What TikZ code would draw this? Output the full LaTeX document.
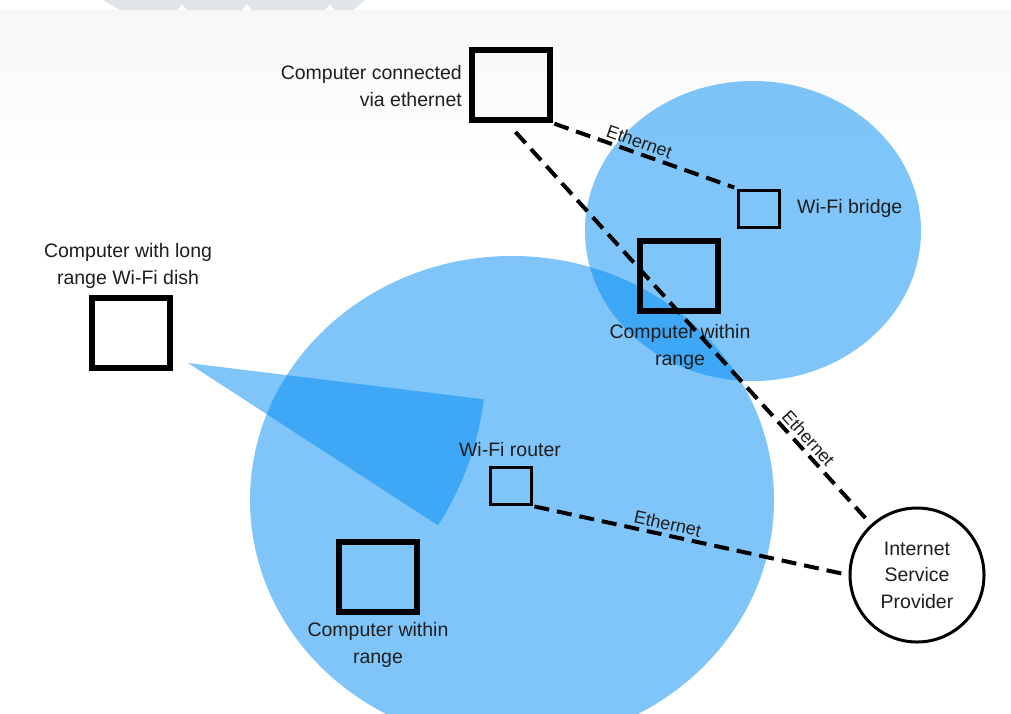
\documentclass[tikz,border=0pt]{standalone}
\usepackage{fontspec}
\setmainfont{Liberation Sans}
\usetikzlibrary{calc}
\definecolor{wifiblue}{RGB}{0,141,245}
\definecolor{txt}{RGB}{30,30,30}
\definecolor{wm}{RGB}{224,229,233}
\begin{document}
\begin{tikzpicture}[x=1pt,y=-1pt,
  lbl/.style={text=txt, font=\fontsize{19.5}{26.5}\selectfont, inner sep=0pt, align=center},
  eth/.style={text=txt, font=\fontsize{18}{20}\selectfont, inner sep=3pt, sloped, above},
  pcbox/.style={draw=black, line width=6pt, minimum width=78pt, minimum height=70pt, inner sep=0pt},
  devbox/.style={draw=black, line width=3pt, minimum width=41pt, minimum height=37pt, inner sep=0pt},
  cable/.style={draw=black, line width=4pt, dash pattern=on 15pt off 8pt},
  wifi/.style={fill=wifiblue, fill opacity=0.5}]

\useasboundingbox (0,0) rectangle (1011,713);
\fill[white] (0,0) rectangle (1011,713);
\shade[top color=black!3, bottom color=white] (0,10) rectangle (1011,170);
\fill[wm] (103,0) -- (365,0) -- (353,10) -- (335,10) -- (330,4) -- (325,10) -- (252,10) -- (247,4) -- (242,10) -- (187,10) -- (182,4) -- (177,10) -- (120,10) -- cycle;

% coverage areas
\fill[wifi] (512,500) ellipse [x radius=262, y radius=244];
\fill[wifi] (753,231) ellipse [x radius=168, y radius=150];
\coordinate (dish) at (188,363);
\fill[wifi] (dish) -- ++(7:298) arc[start angle=7, end angle=33, radius=298] -- cycle;

% devices
\node[pcbox] (c1) at (510.5,85) {};
\node[pcbox] (c2) at (679,275.5) {};
\node[pcbox] (c3) at (131,333) {};
\node[pcbox] (c4) at (378,577) {};
\node[devbox] (router) at (510.5,486) {};
\node[devbox] (bridge) at (759,208.5) {};
\node[circle, draw=black, line width=3pt, minimum size=134pt, inner sep=0pt, lbl] (isp) at (917,575) {Internet\\Service\\Provider};

% labels
\node[lbl, anchor=east, align=right] (c1l) at (462,86) {Computer connected\\via ethernet};
\node[lbl, anchor=west] (bridgel) at (797,208) {Wi-Fi bridge};
\node[lbl] (c2l) at (680,347) {Computer within\\range};
\node[lbl] (c3l) at (128,266) {Computer with long\\range Wi-Fi dish};
\node[lbl] (routerl) at (510,450) {Wi-Fi router};
\node[lbl] (c4l) at (378,645) {Computer within\\range};

% cables
\draw[cable, shorten <=2pt, shorten >=3pt] (c1.south east) -- (bridge.north west) node[eth, pos=0.45] {Ethernet};
\coordinate (c1out) at ($(c1.south)+(5,9)$);
\draw[cable, shorten >=4pt] (c1out) -- (isp) node[eth, pos=0.8] {Ethernet};
\draw[cable, shorten <=2pt, shorten >=4pt] (router.south east) -- (isp.west) node[eth, pos=0.42] {Ethernet};
\end{tikzpicture}
\end{document}
